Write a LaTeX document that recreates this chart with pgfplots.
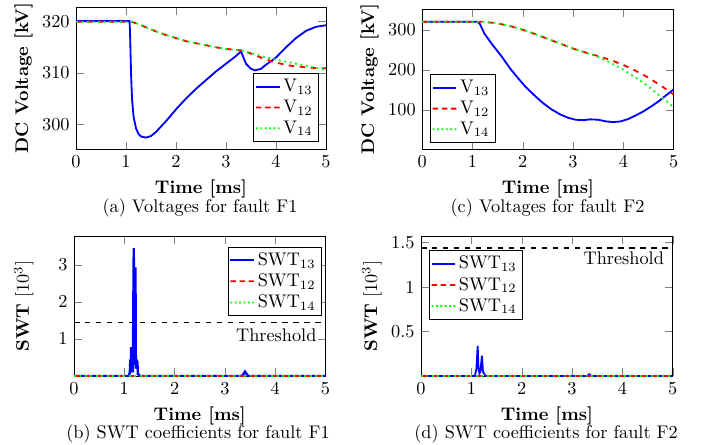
\documentclass[border=0pt]{standalone}
\usepackage{pgfplots}
\pgfplotsset{compat=1.18}
\newcommand{\lgrect}[2]{\pgfpathrectangle{\pgfpoint{#1pt}{-0.5pt}}{\pgfpoint{#2pt}{1pt}}}
\begin{document}
\begin{tikzpicture}
\path[use as bounding box] (0,0) rectangle (384pt,243.4pt);
\pgfplotsset{
  myax/.style={scale only axis, xmin=0, xmax=5, xtick={0,1,2,3,4,5},
    xlabel={\textbf{Time [ms]}}, anchor=south west,
    legend style={nodes={inner xsep=2pt, inner ysep=1.5pt, text depth=0.15em}, inner xsep=1.3pt, inner ysep=1.5pt}},
  s13/.style={blue, line width=1pt,
    legend image code/.code={\pgfsetfillcolor{blue}\lgrect{0}{13}\pgfusepath{fill}}},
  s12/.style={red, line width=1pt, dashed,
    legend image code/.code={\pgfsetfillcolor{red}\lgrect{0}{3}\lgrect{5}{3}\lgrect{10}{3}\pgfusepath{fill}}},
  s14/.style={green, line width=1pt, dotted,
    legend image code/.code={\pgfsetfillcolor{green}\lgrect{0}{1}\lgrect{2.4}{1}\lgrect{4.8}{1}\lgrect{7.2}{1}\lgrect{9.6}{1}\lgrect{12}{1}\pgfusepath{fill}}},
}
% (a)
\begin{axis}[myax, at={(41.6pt,161.7pt)}, width=136.7pt, height=77.7pt,
  ymin=295.1, ymax=322.8, ytick={300,310,320},
  ylabel={\textbf{DC Voltage [kV]}},
  ylabel style={at={(axis description cs:-0.21,0.5)}, anchor=center},
  legend style={at={(0.972,0.054)}, anchor=south east}]
\addplot[s13] coordinates {(0,320.1) (1.07,320.1) (1.08,318) (1.09,314) (1.10,310) (1.12,305) (1.15,301.5) (1.2,299.2) (1.25,298.1) (1.3,297.6) (1.4,297.4) (1.5,297.7) (1.6,298.5) (1.8,300.6) (2.0,302.9) (2.2,305.0) (2.4,306.9) (2.6,308.6) (2.8,310.3) (3.0,311.8) (3.2,313.3) (3.3,314.2) (3.35,313.0) (3.4,311.8) (3.5,310.8) (3.58,310.5) (3.7,310.8) (3.8,311.6) (4.0,313.0) (4.2,315.0) (4.4,316.8) (4.6,318.2) (4.8,319.0) (5.0,319.3)};
\addlegendentry{V$_{13}$}
\addplot[s12] coordinates {(0,320) (1.1,320) (1.2,319.7) (1.4,318.9) (1.6,318.1) (1.8,317.4) (2.0,316.8) (2.2,316.2) (2.4,315.8) (2.6,315.4) (2.8,315.0) (3.0,314.7) (3.2,314.5) (3.3,314.4) (3.5,313.8) (3.7,313.0) (3.9,312.3) (4.1,311.8) (4.3,311.4) (4.5,311.2) (4.7,311.0) (5.0,310.9)};
\addlegendentry{V$_{12}$}
\addplot[s14] coordinates {(0,320) (1.1,320) (1.2,319.7) (1.4,318.9) (1.6,318.1) (1.8,317.4) (2.0,316.8) (2.2,316.2) (2.4,315.8) (2.6,315.4) (2.8,315.0) (3.0,314.7) (3.2,314.5) (3.3,314.4) (3.5,313.9) (3.7,313.3) (3.9,312.8) (4.1,312.4) (4.3,312.0) (4.5,311.6) (4.7,311.2) (5.0,310.6)};
\addlegendentry{V$_{14}$}
\end{axis}
% (c)
\begin{axis}[myax, at={(230.9pt,161.7pt)}, width=137.6pt, height=76.6pt,
  ymin=1, ymax=351, ytick={100,200,300},
  ylabel={\textbf{DC Voltage [kV]}},
  ylabel style={at={(axis description cs:-0.209,0.5)}, anchor=center},
  legend style={at={(0.031,0.047)}, anchor=south west}]
\addplot[s13] coordinates {(0,320) (1.1,320) (1.15,314) (1.24,290) (1.4,262) (1.57,235) (1.75,203) (1.9,180) (2.05,158) (2.24,135) (2.4,117) (2.57,101) (2.75,88) (2.9,80) (3.05,75) (3.2,74) (3.35,76) (3.5,75) (3.65,71) (3.8,69) (3.95,71) (4.1,77) (4.25,86) (4.4,96) (4.55,108) (4.7,121) (4.85,136) (5.0,151)};
\addlegendentry{V$_{13}$}
\addplot[s12] coordinates {(0,320) (1.2,320) (1.5,316) (1.75,309) (2.0,300) (2.25,289) (2.5,277) (2.75,265) (3.0,253) (3.25,243) (3.5,234) (3.75,224) (4.0,212) (4.25,197) (4.5,180) (4.75,160) (5.0,138)};
\addlegendentry{V$_{12}$}
\addplot[s14] coordinates {(0,320) (1.2,320) (1.5,316) (1.75,309) (2.0,300) (2.25,289) (2.5,277) (2.75,265) (3.0,253) (3.25,243) (3.5,232) (3.75,217) (4.0,200) (4.25,180) (4.5,158) (4.75,132) (5.0,107)};
\addlegendentry{V$_{14}$}
\end{axis}
% (b)
\begin{axis}[myax, at={(40.5pt,37.7pt)}, width=137.5pt, height=76.5pt,
  ymin=0, ymax=3.77, ytick={1,2,3},
  ylabel={\textbf{SWT} [10$^3$]},
  ylabel style={at={(axis description cs:-0.2,0.5)}, anchor=center},
  legend style={at={(0.986,0.926)}, anchor=north east}]
\addplot[s13, line width=1.3pt] coordinates {(0,0) (1.09,0) (1.11,0.1) (1.12,0.45) (1.13,0.1) (1.135,0.78) (1.145,0.3) (1.15,0.78) (1.16,0.3) (1.17,0.1) (1.18,2.0) (1.188,3.45) (1.196,1.2) (1.2,0.3) (1.21,2.9) (1.222,2.9) (1.228,0.6) (1.235,0.2) (1.245,0.45) (1.255,0.2) (1.26,0.4) (1.27,0.05) (1.3,0.02) (1.33,0) (3.33,0) (3.37,0.05) (3.4,0.12) (3.43,0.06) (3.47,0) (5,0)};
\addlegendentry{SWT$_{13}$}
\addplot[s12] coordinates {(0,0) (5,0)};
\addlegendentry{SWT$_{12}$}
\addplot[s14] coordinates {(0,0) (5,0)};
\addlegendentry{SWT$_{14}$}
\addplot[black, semithick, dashed, forget plot] coordinates {(0,1.45) (5,1.45)};
\node[anchor=east, inner sep=0pt] at (axis cs:4.83,1.11) {Threshold};
\end{axis}
% (d)
\begin{axis}[myax, at={(230.3pt,37.7pt)}, width=137.7pt, height=76.5pt,
  ymin=0, ymax=1.573, ytick={0.5,1,1.5},
  ylabel={\textbf{SWT} [10$^3$]},
  ylabel style={at={(axis description cs:-0.195,0.5)}, anchor=center},
  legend style={at={(0.031,0.90)}, anchor=north west}]
\addplot[s13] coordinates {(0,0) (1.07,0) (1.1,0.08) (1.126,0.34) (1.14,0.1) (1.16,0.03) (1.18,0.05) (1.21,0.23) (1.23,0.05) (1.27,0.01) (1.3,0) (3.3,0) (3.34,0.02) (3.38,0) (5,0)};
\addlegendentry{SWT$_{13}$}
\addplot[s12] coordinates {(0,0) (5,0)};
\addlegendentry{SWT$_{12}$}
\addplot[s14] coordinates {(0,0) (5,0)};
\addlegendentry{SWT$_{14}$}
\addplot[black, semithick, dashed, forget plot] coordinates {(0,1.44) (5,1.44)};
\node[anchor=east, inner sep=0pt] at (axis cs:4.833,1.32) {Threshold};
\end{axis}
% captions
\node at (109.4pt,129.4pt) {(a) Voltages for fault F1};
\node at (299.5pt,129.6pt) {(c) Voltages for fault F2};
\node at (108.3pt,6.0pt) {(b) SWT coefficients for fault F1};
\node at (298.7pt,6.0pt) {(d) SWT coefficients for fault F2};
\end{tikzpicture}
\end{document}
